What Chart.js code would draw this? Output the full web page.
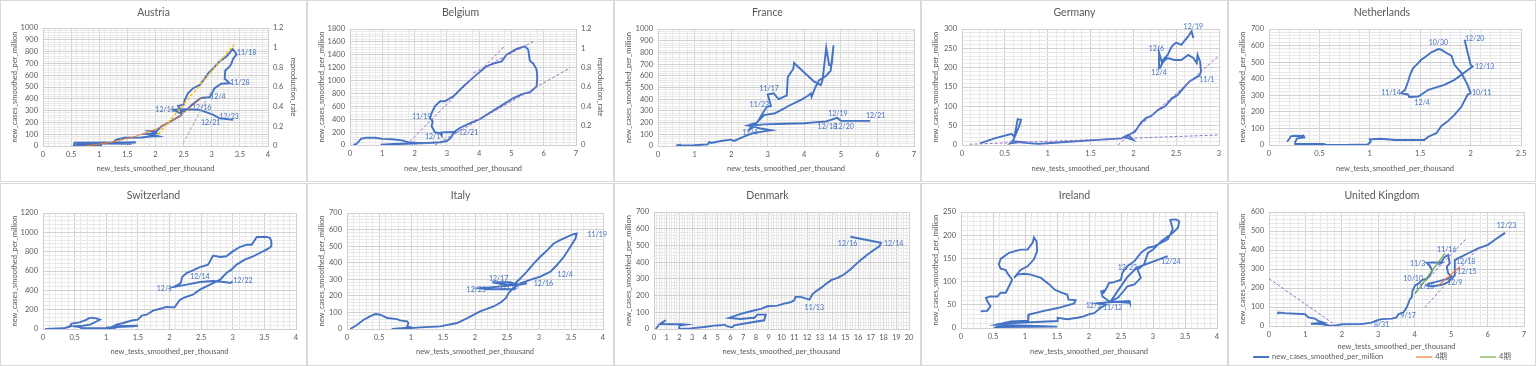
<!DOCTYPE html>
<html><head><meta charset="utf-8">
<script src="https://cdn.jsdelivr.net/npm/chart.js@4.4.1/dist/chart.umd.min.js"></script>
<style>
html,body{margin:0;padding:0;background:#fff;}
#wrap{position:relative;width:1536px;height:366px;overflow:hidden;background:#fff;}
canvas{position:absolute;}
</style></head><body><div id="wrap"></div>
<script>
// ---------- DATA ----------
const AXIS_X = 'new_tests_smoothed_per_thousand';
const AXIS_Y = 'new_cases_smoothed_per_million';
const AXIS_R = 'reproduction_rate';
const LEGEND_TEXTS = ['new_cases_smoothed_per_million', '4期', '4期'];

const austriaX = [1.05,0.55,0.56,1.65,0.6,1.58,1.25,1.3,1.45,1.75,1.9,2.05,1.95,1.85,2.0,1.9,2.02,2.1,2.2,2.32,2.46,2.45,2.4,2.5,2.52,2.58,2.67,2.79,2.88,2.94,3.03,3.14,3.26,3.32,3.37,3.41,3.44,3.38,3.35,3.32,3.24,3.23,3.32,3.17,3.05,2.97,2.8,2.65,2.55,2.43,2.32,2.55,2.79,3.03,3.14,3.38];
const austriaY = [5,8,28,30,22,18,30,55,70,72,80,82,95,100,110,125,125,165,190,222,262,300,340,350,390,448,490,518,575,618,660,717,759,790,822,800,775,740,700,674,640,570,533,528,490,415,405,350,306,280,306,311,306,263,235,221];
const austriaLabels = ['11/18','11/28','12/4','12/11','12/16','12/21','12/23'];
const austriaLabelX = [3.62,3.5,3.11,2.17,2.82,2.98,3.31];
const austriaLabelY = [788,533,414,306,320,198,249];
const austriaTrendGoldX = [2.05,3.4], austriaTrendGoldY = [100,860];
const austriaTrendOrangeX = [0.75,1.2,1.6,2.0,2.4,2.85], austriaTrendOrangeY = [0,30,75,140,240,420];
const austriaTrendGrayX = [2.49,3.0], austriaTrendGrayY = [23,476];

const belgiumX = [0.1,0.2,0.35,0.5,0.8,1.0,1.3,1.6,1.8,2.1,2.6,2.0,1.5,0.95,1.75,2.4,2.8,3.0,3.1,3.15,3.22,3.4,3.72,4.03,4.23,4.65,5.06,5.37,5.57,5.78,5.8,5.78,5.68,5.57,5.52,5.42,5.16,4.85,4.7,4.44,4.23,3.92,3.51,3.2,2.94,2.79,2.63,2.53,2.48,2.56,2.53,2.63,2.79,2.84,2.84,3.2,3.3];
const belgiumY = [0,15,100,115,112,95,90,72,45,33,35,30,22,3,20,32,42,62,100,134,200,264,341,403,470,600,729,797,817,910,1050,1169,1262,1309,1479,1531,1490,1402,1298,1262,1221,1092,910,755,678,678,600,497,419,367,290,197,186,145,197,202,186];
const belgiumLabels = ['11/19','12/1','12/21'];
const belgiumLabelX = [2.22,2.56,3.67];
const belgiumLabelY = [445,135,186];
const belgiumTrend1X = [1.86,4.8], belgiumTrend1Y = [57,1540];
const belgiumTrend2X = [3.82,5.73], belgiumTrend2Y = [1117,1619];
const belgiumTrend3X = [2.63,6.81], belgiumTrend3Y = [0,1195];

const franceX = [0.49,0.63,0.5,0.99,1.36,1.4,1.45,1.72,1.99,2.08,2.27,2.45,2.6,2.9,3.1,2.8,2.55,2.45,2.7,2.9,3.2,3.45,3.55,3.9,4.1,4.18,4.2,4.3,4.4,4.6,4.68,4.72,4.8,4.75,4.68,4.6,4.5,4.45,4.27,3.72,3.7,3.55,3.52,3.45,3.3,3.16,3.0,3.09,2.98,2.9,2.72,2.6,2.5,2.55,2.9,3.5,4.0,4.6,4.9,5.0,5.8];
const franceY = [3,11,5,6,14,34,26,43,54,43,69,92,110,125,135,150,170,175,200,264,280,321,340,392,430,450,420,500,560,600,630,640,860,700,693,840,564,521,550,710,660,590,430,421,400,450,440,341,335,300,206,160,140,175,185,190,195,210,240,215,215];
const franceLabels = ['11/17','11/23','12/4','12/19','12/18','12/20','12/21'];
const franceLabelX = [3.04,2.77,2.52,4.92,4.63,5.09,5.95];
const franceLabelY = [493,355,117,272,163,163,255];

const germanyX = [0.21,0.38,0.58,0.61,0.63,0.65,0.69,0.66,0.6,0.56,0.69,0.6,0.7,0.89,1.08,1.5,1.86,1.94,2.0,1.9,2.02,2.09,2.15,2.21,2.29,2.37,2.45,2.52,2.6,2.66,2.72,2.77,2.79,2.78,2.75,2.74,2.7,2.64,2.56,2.48,2.4,2.35,2.31,2.3,2.33,2.4,2.45,2.5,2.56,2.64,2.68,2.7];
const germanyY = [4,17,29,20,43,67,65,45,13,4,8,10,6,3,6,12,17,26,13,20,35,58,70,75,91,100,120,130,151,165,173,179,190,215,233,212,225,233,220,220,225,216,199,240,216,233,255,265,259,281,294,277];
const germanyLabels = ['12/19','12/6','12/4','11/1'];
const germanyLabelX = [2.7,2.27,2.3,2.86];
const germanyLabelY = [305,248,188,168];
const germanyTrend1X = [0.09,3.0], germanyTrend1Y = [2,26];
const germanyTrend2X = [1.82,3.0], germanyTrend2Y = [0,231];

const netherlandsX = [0.18,0.22,0.26,0.32,0.34,0.35,0.28,0.26,0.26,0.42,0.54,0.57,0.75,0.98,1.01,1.0,1.11,1.25,1.54,1.58,1.66,1.71,1.77,1.84,1.91,1.97,2.0,1.97,1.91,1.84,1.81,1.76,1.71,1.68,1.61,1.56,1.51,1.48,1.43,1.4,1.38,1.35,1.31,1.38,1.39,1.48,1.51,1.58,1.74,1.84,2.02,2.0,1.94];
const netherlandsY = [20,54,56,54,58,46,40,20,6,6,6,0,0,4,20,34,38,30,30,50,71,115,141,182,232,303,313,363,434,484,539,555,575,579,559,535,514,494,464,424,383,333,313,305,290,293,303,333,363,393,474,484,635];
const netherlandsLabels = ['10/30','12/20','12/13','10/11','11/14','12/4'];
const netherlandsLabelX = [1.68,2.04,2.14,2.11,1.21,1.52];
const netherlandsLabelY = [615,640,474,313,313,256];

const switzerlandX = [0.03,0.32,0.42,0.45,0.58,0.69,0.72,0.77,0.84,0.9,0.84,0.74,0.63,0.5,0.58,0.61,1.16,1.0,1.42,1.5,1.11,1.16,1.27,1.42,1.5,1.56,1.64,1.74,1.9,1.95,2.08,2.16,2.22,2.37,2.48,2.64,2.8,2.9,2.98,3.06,3.19,3.32,3.43,3.56,3.61,3.61,3.59,3.54,3.38,3.3,3.22,3.11,3.0,2.9,2.8,2.69,2.61,2.48,2.37,2.27,2.2,2.18,2.14,2.06,2.27,2.48,2.69,2.9,2.96,3.0];
const switzerlandY = [0,7,21,55,69,97,110,117,110,97,75,45,34,28,21,7,7,15,28,34,28,45,62,90,97,138,148,190,217,228,224,297,321,355,407,459,510,579,614,666,717,752,786,831,855,907,941,952,952,872,872,848,803,752,745,759,666,641,607,579,538,480,459,434,459,486,497,483,476,493];
const switzerlandLabels = ['12/14','12/22','12/1'];
const switzerlandLabelX = [2.48,3.16,1.92];
const switzerlandLabelY = [538,503,414];

const italyX = [0.05,0.16,0.26,0.36,0.44,0.52,0.63,0.78,0.83,0.94,0.96,0.94,1.0,0.7,0.94,1.15,1.46,1.72,1.88,2.08,2.29,2.4,2.48,2.53,2.6,2.71,2.86,3.02,3.18,3.28,3.39,3.49,3.57,3.59,3.54,3.44,3.33,3.23,3.13,3.02,2.92,2.81,2.71,2.63,2.5,2.27,2.55,2.65,2.55,2.08,2.2,2.62,2.62,2.81];
const italyY = [0,26,56,76,90,86,66,60,52,46,36,16,10,0,4,10,16,36,66,106,136,160,186,220,246,276,296,316,346,386,436,496,546,576,572,556,536,516,476,436,396,346,306,276,266,282,282,270,262,246,240,240,262,276];
const italyLabels = ['11/19','12/4','12/16','12/17','12/10','12/23'];
const italyLabelX = [3.91,3.41,3.07,2.37,2.53,2.02];
const italyLabelY = [566,326,272,306,256,236];

const denmarkX = [0.13,0.39,0.65,0.92,0.5,2.09,2.49,2.0,1.96,2.88,3.93,4.71,5.24,5.5,5.76,6.15,6.28,7.33,8.64,8.77,8.12,7.85,7.59,6.81,5.89,6.81,7.59,8.38,8.9,9.69,10.2,10.7,11.0,11.1,11.5,12.0,12.2,12.4,12.7,13.1,13.6,13.9,14.4,14.9,15.4,16.1,16.75,17.3,17.7,17.8,15.4];
const denmarkY = [0,26,40,52,30,28,26,20,0,4,12,20,22,26,16,10,22,36,52,86,86,66,66,60,66,90,106,120,136,140,152,160,172,192,192,180,176,206,226,246,276,292,306,326,356,406,446,476,496,516,552];
const denmarkLabels = ['12/16','12/14','11/13'];
const denmarkLabelX = [15.18,18.8,12.57];
const denmarkLabelY = [510,510,126];

const irelandX = [0.31,0.41,0.46,0.41,0.39,0.46,0.57,0.62,0.7,0.75,0.8,0.72,0.7,0.62,0.59,0.62,0.75,0.93,1.04,1.12,1.14,1.18,1.19,1.14,1.04,0.93,0.83,0.88,0.99,1.09,1.25,1.38,1.46,1.57,1.66,1.68,1.79,1.77,1.51,1.3,1.06,1.05,0.78,0.55,1.5,0.55,0.52,0.7,1.51,1.51,1.66,1.82,1.92,1.98,2.08,2.18,2.26,2.13,2.26,2.63,2.64,2.31,2.21,2.19,2.24,2.22,2.29,2.31,2.39,2.5,2.52,2.6,2.71,2.81,2.92,3.02,3.23,3.31,3.27,3.36,3.41,3.39,3.31,3.13,3.0,2.92,2.86,2.76,2.81,2.76,2.71,2.6,2.52,2.45,2.34,2.45,2.6,2.75,3.23];
const irelandY = [36,37,47,58,65,68,68,76,76,90,104,119,125,128,137,149,162,169,169,184,195,187,166,148,133,125,108,115,117,115,108,94,83,76,72,61,60,53,43,37,29,16,14,7,3,2,0,10,15,22,19,22,25,29,32,43,50,53,55,58,54,58,68,79,81,74,90,97,99,104,119,133,144,162,173,176,191,213,233,234,230,216,205,187,169,162,137,126,108,101,94,90,76,65,58,80,110,130,155];
const irelandLabels = ['12/22','12/24','12/3','11/12'];
const irelandLabelX = [2.6,3.28,2.07,2.37];
const irelandLabelY = [130,142,48,43];

const ukX = [0.24,0.26,0.44,0.99,1.08,1.26,1.35,1.49,1.26,1.15,1.54,1.4,1.45,1.63,1.81,2.0,2.54,2.82,2.96,3.09,3.37,3.5,3.55,3.69,3.78,3.82,3.87,3.92,3.94,4.01,4.1,4.19,4.33,4.42,4.48,4.4,4.33,4.5,4.74,4.7,4.83,4.92,4.96,4.88,4.92,5.01,4.92,4.74,4.56,4.38,4.33,4.47,4.74,4.92,5.1,5.1,5.1,5.24,5.47,5.74,6.01,6.2,6.48];
const ukY = [62,71,68,62,45,39,27,18,14,12,10,20,8,2,2,9,10,18,30,36,39,45,62,71,98,116,142,151,187,214,223,240,249,267,294,320,333,335,333,329,365,374,329,312,276,262,249,240,231,223,214,208,217,231,267,294,347,361,383,409,427,454,490];
const ukLabels = ['12/23','11/16','11/3','12/18','12/15','10/10','12/9','11/25','9/17','8/31'];
const ukLabelX = [6.52,4.88,4.08,5.4,5.43,3.96,5.1,4.28,3.82,3.09];
const ukLabelY = [529,400,329,338,285,249,226,208,53,5];
const ukTrend1X = [0,1.86], ukTrend1Y = [249,0];
const ukTrend2X = [4.01,5.43], ukTrend2Y = [178,463];
const ukTrend3X = [4.28,5.74], ukTrend3Y = [98,409];
const ukTrendGreenX = [4.01,4.83], ukTrendGreenY = [169,383];
const ukTrendOrangeX = [4.65,5.24], ukTrendOrangeY = [214,312];

// ---------- STYLE / LAYOUT ----------
const FONT = "Lato, 'Open Sans', 'Liberation Sans', 'Noto Sans CJK JP', sans-serif";
const BLUE = '#4472C4', PURPLE = '#9370C8', GOLD = '#FFC000', ORANGE = '#ED7D31', GRAY = '#A5A5A5', GREEN = '#70AD47';
const TXT = '#595959';
Chart.defaults.font.family = FONT;
Chart.defaults.color = TXT;

const dashed = [3, 2];
const panels = [
  {title:'Austria', col:0,row:0, xs:austriaX, ys:austriaY, labels:austriaLabels, lx:austriaLabelX, ly:austriaLabelY,
   xMax:4,xMajor:0.5,xMinor:0.1, yMax:1000,yMajor:100,yMinor:20, right:true, plot:[43,28,268,146],
   trends:[{x:austriaTrendGoldX,y:austriaTrendGoldY,c:GOLD,d:dashed,w:1.5},{x:austriaTrendOrangeX,y:austriaTrendOrangeY,c:ORANGE,w:1},{x:austriaTrendGrayX,y:austriaTrendGrayY,c:GRAY,d:dashed,w:1}]},
  {title:'Belgium', col:1,row:0, xs:belgiumX, ys:belgiumY, labels:belgiumLabels, lx:belgiumLabelX, ly:belgiumLabelY,
   xMax:7,xMajor:1,xMinor:0.2, yMax:1800,yMajor:200,yMinor:40, right:true, plot:[43,29,269,145],
   trends:[{x:belgiumTrend1X,y:belgiumTrend1Y,c:PURPLE,d:dashed,w:1},{x:belgiumTrend2X,y:belgiumTrend2Y,c:PURPLE,d:dashed,w:1},{x:belgiumTrend3X,y:belgiumTrend3Y,c:PURPLE,d:dashed,w:1}]},
  {title:'France', col:2,row:0, xs:franceX, ys:franceY, labels:franceLabels, lx:franceLabelX, ly:franceLabelY,
   xMax:7,xMajor:1,xMinor:0.2, yMax:1000,yMajor:100,yMinor:20, plot:[44,29,300,146], trends:[]},
  {title:'Germany', col:3,row:0, xs:germanyX, ys:germanyY, labels:germanyLabels, lx:germanyLabelX, ly:germanyLabelY,
   xMax:3,xMajor:0.5,xMinor:0.1, yMax:300,yMajor:50,yMinor:10, plot:[41,29,298,145],
   trends:[{x:germanyTrend1X,y:germanyTrend1Y,c:PURPLE,d:dashed,w:1},{x:germanyTrend2X,y:germanyTrend2Y,c:PURPLE,d:dashed,w:1}]},
  {title:'Netherlands', col:4,row:0, xs:netherlandsX, ys:netherlandsY, labels:netherlandsLabels, lx:netherlandsLabelX, ly:netherlandsLabelY,
   xMax:2.5,xMajor:0.5,xMinor:0.1, yMax:700,yMajor:100,yMinor:20, plot:[41,29,293,145], trends:[]},
  {title:'Switzerland', col:0,row:1, xs:switzerlandX, ys:switzerlandY, labels:switzerlandLabels, lx:switzerlandLabelX, ly:switzerlandLabelY,
   xMax:4,xMajor:0.5,xMinor:0.1, yMax:1200,yMajor:200,yMinor:40, plot:[43,30,296,146], trends:[]},
  {title:'Italy', col:1,row:1, xs:italyX, ys:italyY, labels:italyLabels, lx:italyLabelX, ly:italyLabelY,
   xMax:4,xMajor:0.5,xMinor:0.1, yMax:700,yMajor:100,yMinor:20, plot:[40,30,296,146], trends:[]},
  {title:'Denmark', col:2,row:1, xs:denmarkX, ys:denmarkY, labels:denmarkLabels, lx:denmarkLabelX, ly:denmarkLabelY,
   xMax:20,xMajor:1,xMinor:0.2, yMax:700,yMajor:100,yMinor:20, plot:[40,29,295,146], trends:[]},
  {title:'Ireland', col:3,row:1, xs:irelandX, ys:irelandY, labels:irelandLabels, lx:irelandLabelX, ly:irelandLabelY,
   xMax:4,xMajor:0.5,xMinor:0.1, yMax:250,yMajor:50,yMinor:10, plot:[40,29,296,145], trends:[]},
  {title:'United Kingdom', col:4,row:1, xs:ukX, ys:ukY, labels:ukLabels, lx:ukLabelX, ly:ukLabelY,
   xMax:7,xMajor:1,xMinor:0.2, yMax:600,yMajor:100,yMinor:20, plot:[41,29,296,143], legend:true,
   trends:[{x:ukTrendGreenX,y:ukTrendGreenY,c:GREEN,w:1.2},{x:ukTrendOrangeX,y:ukTrendOrangeY,c:ORANGE,w:1.2},
           {x:ukTrend1X,y:ukTrend1Y,c:PURPLE,d:dashed,w:1},{x:ukTrend2X,y:ukTrend2Y,c:PURPLE,d:dashed,w:1},{x:ukTrend3X,y:ukTrend3Y,c:PURPLE,d:dashed,w:1}]}
];

const COL_X = [0,307,614,921,1228];
const zip = (xs, ys) => xs.slice(0, Math.min(xs.length, ys.length)).map((x, i) => ({x, y: ys[i]}));
const isMajor = (v, m) => { const r = v / m; return Math.abs(r - Math.round(r)) < 1e-6; };
const fmt = v => String(Math.round(v * 1000) / 1000);
const gridCol = (m) => (ctx) => {
  const v = ctx.tick ? ctx.tick.value : 0;
  return isMajor(v, m) ? '#d0d0d0' : '#e9e9e9';
};

const deco = {
  id: 'deco',
  beforeDraw(chart, args, o) {
    const {ctx, width, height} = chart;
    ctx.save();
    ctx.fillStyle = '#fff'; ctx.fillRect(0, 0, width, height);
    ctx.strokeStyle = '#d9d9d9'; ctx.lineWidth = 1; ctx.strokeRect(0.5, 0.5, width - 1, height - 1);
    ctx.restore();
  },
  afterDatasetsDraw(chart, args, o) {
    const {ctx} = chart; const xs = chart.scales.x, ys = chart.scales.y;
    ctx.save();
    ctx.font = '7px ' + FONT; ctx.fillStyle = BLUE; ctx.textAlign = 'center'; ctx.textBaseline = 'middle';
    o.labels.forEach((t, i) => ctx.fillText(t, xs.getPixelForValue(o.lx[i]), ys.getPixelForValue(o.ly[i])));
    ctx.restore();
  },
  afterDraw(chart, args, o) {
    const {ctx, width} = chart;
    ctx.save();
    ctx.font = '10.5px ' + FONT; ctx.fillStyle = TXT; ctx.textAlign = 'center'; ctx.textBaseline = 'middle';
    ctx.fillText(o.title, width / 2, 13);
    if (o.legend) {
      const items = [{t: LEGEND_TEXTS[0], c: BLUE, w: 2}, {t: LEGEND_TEXTS[1], c: ORANGE, w: 1.2}, {t: LEGEND_TEXTS[2], c: GREEN, w: 1.2}];
      ctx.font = '7.5px ' + FONT; ctx.textAlign = 'left';
      const lineW = 16, sp = 3, gap = 33;
      const widths = items.map(it => lineW + sp + ctx.measureText(it.t).width);
      const total = widths.reduce((a, b) => a + b, 0) + gap * (items.length - 1);
      let x = width / 2 - total / 2; const y = 174;
      items.forEach((it, i) => {
        ctx.strokeStyle = it.c; ctx.lineWidth = it.w;
        ctx.beginPath(); ctx.moveTo(x, y); ctx.lineTo(x + lineW, y); ctx.stroke();
        ctx.fillStyle = TXT; ctx.fillText(it.t, x + lineW + sp, y);
        x += widths[i] + gap;
      });
    }
    ctx.restore();
  }
};

const wrap = document.getElementById('wrap');
panels.forEach(p => {
  const W = p.col === 4 ? 308 : 307;
  const H = p.row === 0 ? 182 : 183;
  const cv = document.createElement('canvas');
  cv.width = W; cv.height = H;
  cv.style.left = COL_X[p.col] + 'px'; cv.style.top = (p.row === 0 ? 0 : 183) + 'px';
  cv.style.width = W + 'px'; cv.style.height = H + 'px';
  wrap.appendChild(cv);
  const [pl, pt, pr, pb] = p.plot;
  const padBottom = p.legend ? 14 : 4;
  const xTitleY = p.legend ? 164 : 169;
  const xTitlePadBottom = (H - padBottom) - xTitleY - 4.5;

  const datasets = p.trends.map(t => ({
    data: zip(t.x, t.y), showLine: true, borderColor: t.c, backgroundColor: t.c,
    borderWidth: t.w, borderDash: t.d || [], pointRadius: 0, tension: 0, yAxisID: 'y'
  }));
  datasets.push({data: zip(p.xs, p.ys), showLine: true, borderColor: BLUE, backgroundColor: BLUE,
    borderWidth: 1.9, pointRadius: 0, tension: 0, yAxisID: 'y'});

  const tickFont = {family: FONT, size: 7.5};
  const scales = {
    x: {type: 'linear', position: 'bottom', min: 0, max: p.xMax,
      afterFit: s => { s.height = (H - padBottom) - pb; },
      ticks: {stepSize: p.xMinor, autoSkip: false, maxRotation: 0, minRotation: 0, padding: 4, color: TXT, font: tickFont,
        callback: v => isMajor(v, p.xMajor) ? fmt(v) : ''},
      grid: {color: gridCol(p.xMajor), drawTicks: false, lineWidth: 1},
      border: {color: '#d0d0d0'},
      title: {display: true, text: AXIS_X, color: TXT, font: tickFont, padding: {top: 0, bottom: xTitlePadBottom}}
    },
    y: {type: 'linear', position: 'left', min: 0, max: p.yMax,
      afterFit: s => { s.width = pl; },
      ticks: {stepSize: p.yMinor, autoSkip: false, padding: 5, color: TXT, font: tickFont,
        callback: v => isMajor(v, p.yMajor) ? fmt(v) : ''},
      grid: {color: gridCol(p.yMajor), drawTicks: false, lineWidth: 1},
      border: {color: '#d0d0d0'},
      title: {display: true, text: AXIS_Y, color: TXT, font: tickFont, padding: {top: 10, bottom: 0}}
    }
  };
  if (p.right) {
    scales.y1 = {type: 'linear', position: 'right', min: 0, max: 1.2,
      afterFit: s => { s.width = W - pr; },
      ticks: {stepSize: 0.2, padding: 5, color: TXT, font: tickFont, callback: v => fmt(v)},
      grid: {display: false, drawTicks: false},
      border: {display: false},
      title: {display: true, text: AXIS_R, color: TXT, font: tickFont, padding: {top: 9.5, bottom: 0}}
    };
  }
  new Chart(cv, {
    type: 'scatter',
    data: {datasets},
    options: {
      responsive: false, animation: false, events: [],
      layout: {padding: {left: 0, top: pt, right: p.right ? 0 : (W - pr), bottom: padBottom}},
      scales,
      plugins: {
        legend: {display: false}, tooltip: {enabled: false},
        deco: {title: p.title, labels: p.labels, lx: p.lx, ly: p.ly, legend: !!p.legend}
      }
    },
    plugins: [deco]
  });
});
</script>
</body></html>
